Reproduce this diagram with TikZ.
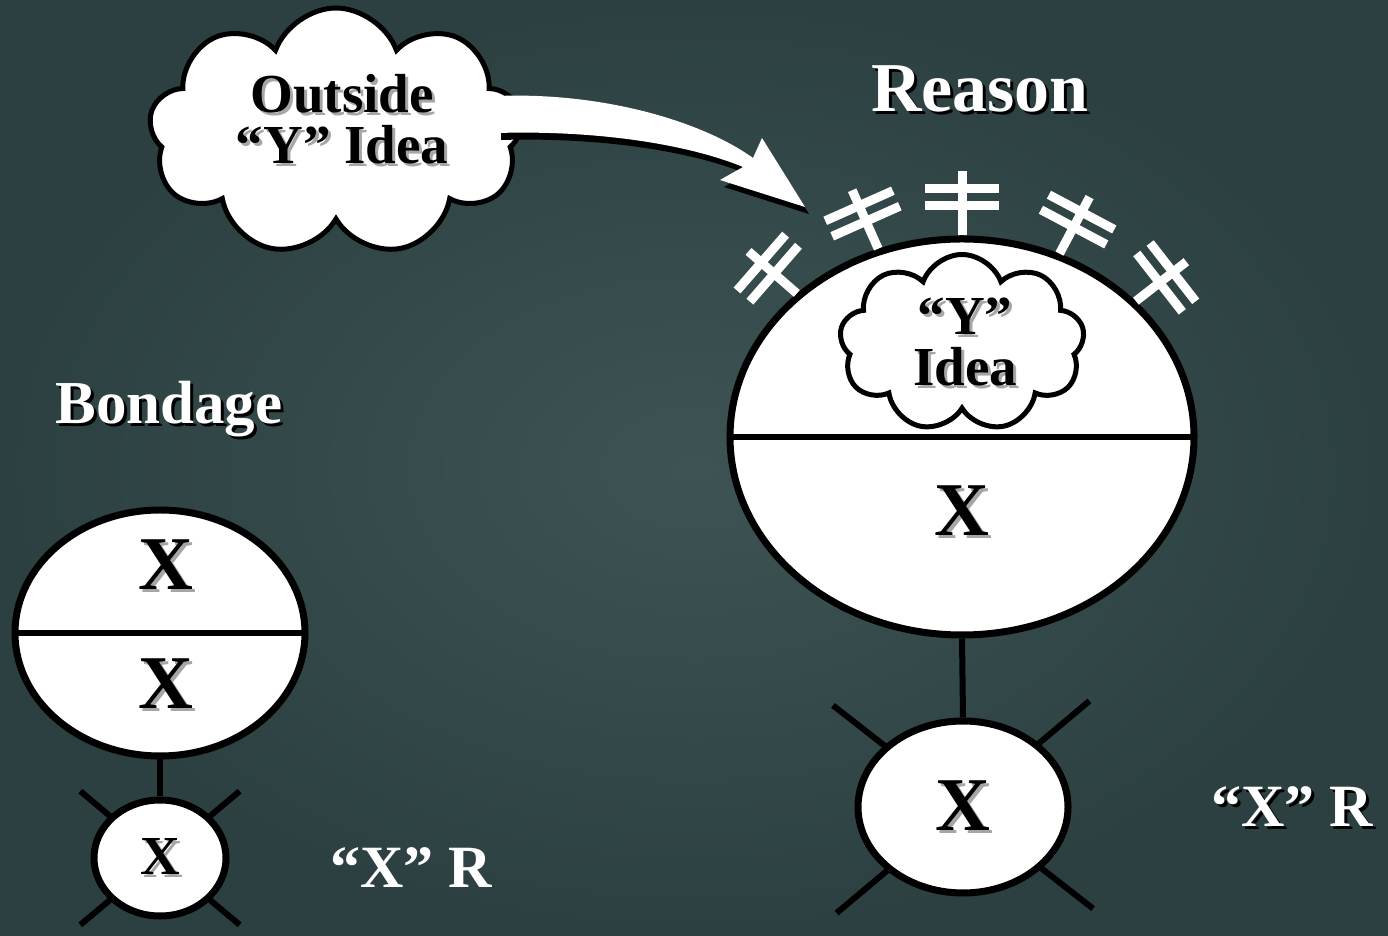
\documentclass[tikz,border=0pt]{standalone}
\usepackage{fontspec}
\setmainfont{Liberation Serif}
\usepackage{tikz}
\usetikzlibrary{shapes,arrows,positioning,calc}

\definecolor{slate}{RGB}{44,64,65}
\definecolor{slatelight}{RGB}{62,84,84}
\newcommand{\drop}[2]{\leavevmode\rlap{\kern3pt\raisebox{-3pt}{\color{#1}#2}}#2}
\newcommand{\ideaarrow}{(497,840) .. controls (600,844) and (700,816) .. (753,778)
  -- (762,798) -- (805,729) -- (720,756) -- (743,769)
  .. controls (690,791) and (600,806) .. (497,803) -- cycle}

\begin{document}
\begin{tikzpicture}[x=1pt,y=1pt,
    ring/.style={draw=black, line width=7pt, fill=white, inner sep=0pt},
    puff/.style={cloud, cloud puffs=9, cloud puff arc=140, cloud ignores aspect,
      draw=black, line width=5pt, fill=white, inner sep=0pt},
    bar/.style={draw=black, line width=6pt},
    antenna/.style={draw=white, line width=9pt},
    title/.style={text=white, font=\bfseries\fontsize{#1}{#1}\selectfont},
    letter/.style={text=black, font=\bfseries\fontsize{#1}{#1}\selectfont, align=center}]

  % background
  \shade[inner color=slatelight, outer color=slate] (0,0) rectangle (1388,936);
  \useasboundingbox (0,0) rectangle (1388,936);

  % outside idea
  \node[puff, minimum width=374pt, minimum height=248pt] (outcloud) at (336,804) {};
  \fill[black, shift={(4,-7)}] \ideaarrow;
  \fill[white] \ideaarrow;
  \node[letter=55, text depth=0pt] (outtext) at (342,817)
    {\drop{gray!70}{Outside}\\[-4pt]\drop{gray!70}{“Y” Idea}};

  % reason
  \node[title=70] (reasonlbl) at (980,846) {\drop{black}{Reason}};
  \node[ring, ellipse, minimum width=464pt, minimum height=396pt] (mind) at (962,499) {};
  \foreach \a in {38,62,90,114,139} {
    \draw[antenna] (mind.\a) -- ++(\a:64);
    \draw[antenna] ($(mind.\a)+(\a:30)+(\a+90:37)$) -- ++(\a-90:74);
    \draw[antenna] ($(mind.\a)+(\a:47)+(\a+90:37)$) -- ++(\a-90:74);
  }
  \draw[bar] ([xshift=3pt]mind.west) -- ([xshift=-3pt]mind.east);
  \node[puff, minimum width=245pt, minimum height=177pt] (ycloud) at (962,593) {};
  \node[letter=55] (ytext) at (965,593) {\drop{gray!70}{“Y”}\\[-4pt]\drop{gray!70}{Idea}};
  \node[letter=76] (mindx) at (962,424) {\drop{gray!70}{X}};

  \coordinate (selfc) at (963,129);
  \draw[bar] ($(selfc)+(142:165)$) -- ($(selfc)+(-38:165)$);
  \draw[bar] ($(selfc)+(40:165)$) -- ($(selfc)+(220:165)$);
  \node[ring, ellipse, minimum width=210pt, minimum height=172pt] (self) at (selfc) {};
  \node[letter=76] (selfx) at (self) {\drop{gray!70}{X}};
  \draw[bar] (mind.south) -- (self.north);
  \node[title=60] (reasonr) at (1292,128) {\drop{black}{“X” R}};

  % bondage
  \node[title=61] (bondlbl) at (169,525) {\drop{black}{Bondage}};
  \node[ring, ellipse, minimum width=290pt, minimum height=246pt] (bond) at (160,303) {};
  \draw[bar] ([xshift=3pt]bond.west) -- ([xshift=-3pt]bond.east);
  \node[letter=76] (bondtop) at (166,370) {\drop{gray!70}{X}};
  \node[letter=76] (bondbot) at (166,251) {\drop{gray!70}{X}};

  \coordinate (bondc) at (160,78);
  \draw[bar] ($(bondc)+(140:104)$) -- ($(bondc)+(-40:104)$);
  \draw[bar] ($(bondc)+(40:104)$) -- ($(bondc)+(220:104)$);
  \node[ring, ellipse, minimum width=132pt, minimum height=116pt] (bondx) at (bondc) {};
  \node[letter=55] (bondxl) at (bondx) {\drop{gray!70}{X}};
  \draw[bar] (bond.south) -- (bondx.north);
  \node[title=60] (bondr) at (411,68) {“X” R};
\end{tikzpicture}
\end{document}
